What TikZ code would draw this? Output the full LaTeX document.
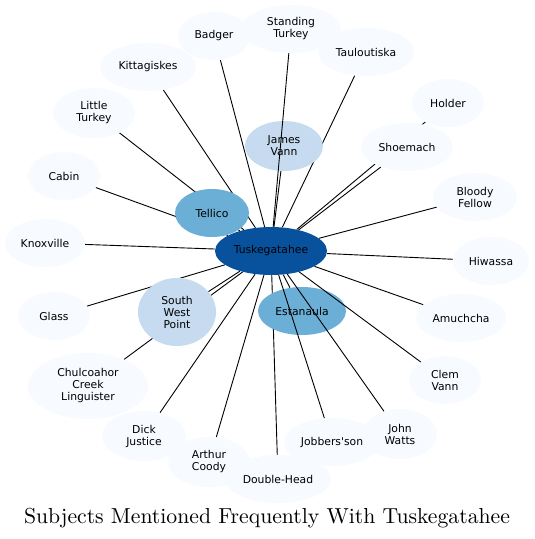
\documentclass[tikz,border=0pt]{standalone}
\usepackage{fontspec}
\newfontfamily\nodefont{DejaVu Sans}
\newfontfamily\titlefont[Extension=.otf]{lmroman10-regular}
\usetikzlibrary{shapes.geometric}
\pgfdeclarelayer{bg}
\pgfsetlayers{bg,main}
\definecolor{cLight}{HTML}{F7FBFF}
\definecolor{cPale}{HTML}{C6DBEF}
\definecolor{cMid}{HTML}{6BAED6}
\definecolor{cDark}{HTML}{08519C}
\begin{document}
\begin{tikzpicture}[x=1pt,y=-1pt,
  ent/.style={ellipse, inner sep=0pt, fill=cLight, align=center,
    font=\nodefont\fontsize{10.8}{12}\selectfont},
  sz/.style 2 args={minimum width=#1pt, minimum height=#2pt},
  link/.style={draw=black, line width=0.9pt}]
\useasboundingbox (0,0) rectangle (535,539);
% nodes
\node[ent, sz={112}{48}, fill=cDark] (tusk) at (271,251) {Tuskegatahee};
\node[ent, sz={72}{48}] (badger) at (214,36) {Badger};
\node[ent, sz={100}{48}] (standing) at (291,29) {Standing\\Turkey};
\node[ent, sz={96}{48}] (taulo) at (366,52) {Tauloutiska};
\node[ent, sz={72}{48}] (holder) at (448,103) {Holder};
\node[ent, sz={92}{48}] (shoemach) at (407,147) {Shoemach};
\node[ent, sz={84}{48}] (bloody) at (475,197) {Bloody\\Fellow};
\node[ent, sz={76}{48}] (hiwassa) at (491,261) {Hiwassa};
\node[ent, sz={90}{48}] (amuchcha) at (461,318) {Amuchcha};
\node[ent, sz={72}{48}] (clem) at (445,380) {Clem\\Vann};
\node[ent, sz={74}{50}] (john) at (400,434) {John\\Watts};
\node[ent, sz={96}{48}] (jobbers) at (332,442) {Jobbers'son};
\node[ent, sz={106}{48}] (double) at (278,479) {Double-Head};
\node[ent, sz={82}{50}] (arthur) at (209,462) {Arthur\\Coody};
\node[ent, sz={84}{50}] (dick) at (144,436) {Dick\\Justice};
\node[ent, sz={120}{66}] (chulco) at (88,386) {Chulcoahor\\Creek\\Linguister};
\node[ent, sz={72}{48}] (glass) at (54,316) {Glass};
\node[ent, sz={78}{68}, fill=cPale] (swp) at (177,312) {South\\West\\Point};
\node[ent, sz={88}{48}, fill=cMid] (estanaula) at (302,311) {Estanaula};
\node[ent, sz={80}{48}] (knoxville) at (45,243) {Knoxville};
\node[ent, sz={72}{48}] (cabin) at (64,176) {Cabin};
\node[ent, sz={82}{50}] (little) at (94,113) {Little\\Turkey};
\node[ent, sz={96}{48}] (kitta) at (148,67) {Kittagiskes};
\node[ent, sz={74}{48}, fill=cMid] (tellico) at (212,213) {Tellico};
\node[ent, sz={78}{50}, fill=cPale] (jv) at (284,146) {James\\Vann};
% edges hidden by nodes they pass
\begin{pgfonlayer}{bg}
\draw[link] (tusk) -- (badger);
\draw[link] (tusk) -- (taulo);
\draw[link] (tusk) -- (holder);
\draw[link] (tusk) -- (shoemach);
\draw[link] (tusk) -- (bloody);
\draw[link] (tusk) -- (hiwassa);
\draw[link] (tusk) -- (amuchcha);
\draw[link] (tusk) -- (double);
\draw[link] (tusk) -- (arthur);
\draw[link] (tusk) -- (dick);
\draw[link] (tusk) -- (chulco);
\draw[link] (tusk) -- (glass);
\draw[link] (tusk) -- (swp);
\draw[link] (tusk) -- (estanaula);
\draw[link] (tusk) -- (knoxville);
\draw[link] (tusk) -- (cabin);
\draw[link] (tusk) -- (little);
\draw[link] (tusk) -- (kitta);
\draw[link] (tusk) -- (tellico);
\draw[link] (tusk) -- (jv);
\end{pgfonlayer}
% edges drawn over the nodes they pass
\draw[link] (tusk) -- (standing);
\draw[link] (tusk) -- (jobbers);
\draw[link] (tusk) -- (john);
\draw[link] (tusk) -- (clem);
% title
\node[font=\titlefont\fontsize{21.7}{26}\selectfont, inner sep=0pt] (title) at (267,518) {Subjects Mentioned Frequently With Tuskegatahee};
\end{tikzpicture}
\end{document}
